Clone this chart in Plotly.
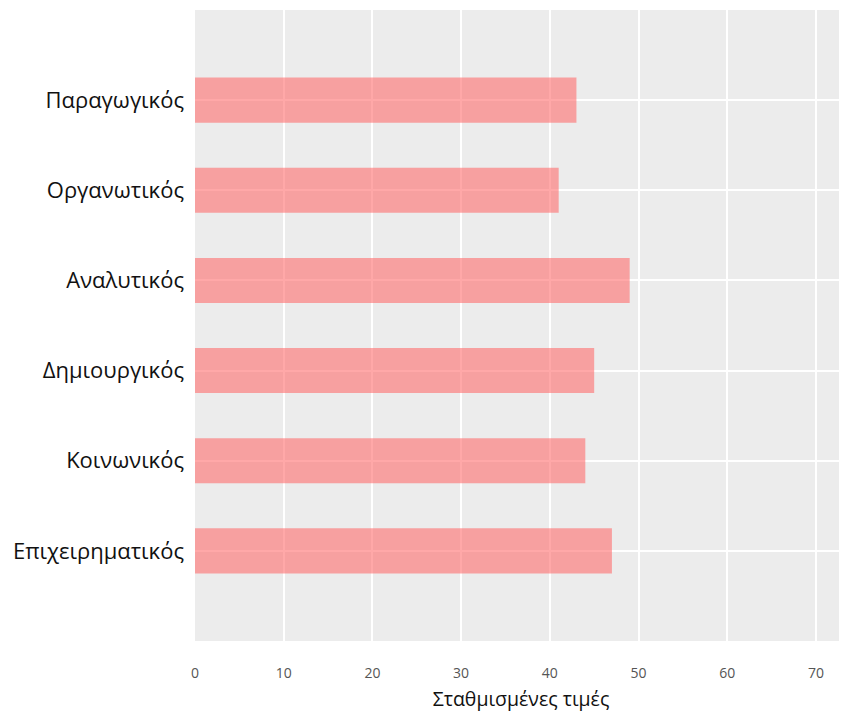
import plotly.graph_objects as go

categories = ["Παραγωγικός", "Οργανωτικός", "Αναλυτικός", "Δημιουργικός", "Κοινωνικός", "Επιχειρηματικός"]
values = [43, 41, 49, 45, 44, 47]
x_ticks = [0, 10, 20, 30, 40, 50, 60, 70]

fig = go.Figure(
    go.Bar(
        y=categories,
        x=values,
        orientation="h",
        width=0.5,
        marker=dict(color="rgba(255,110,110,0.6)", line=dict(width=0)),
    )
)

fig.update_layout(
    width=839,
    height=704,
    margin=dict(l=187, r=0, t=2, b=71),
    paper_bgcolor="white",
    plot_bgcolor="#ECECEC",
    font=dict(family="Open Sans, Noto Sans, sans-serif"),
    showlegend=False,
)

fig.update_xaxes(
    range=[0, 73.5],
    tickvals=x_ticks,
    ticktext=[str(v) for v in x_ticks],
    showgrid=True,
    gridcolor="white",
    gridwidth=1.5,
    zeroline=False,
    showline=False,
    ticks="",
    tickfont=dict(size=14, color="#555555"),
    ticklabelstandoff=22,
    title=dict(text="Σταθμισμένες τιμές", font=dict(size=19.5, color="#111111"), standoff=14),
)

fig.update_yaxes(
    categoryorder="array",
    categoryarray=categories,
    autorange=False,
    range=[6, -1],
    showgrid=True,
    gridcolor="white",
    gridwidth=1.5,
    zeroline=False,
    showline=False,
    ticks="",
    tickfont=dict(size=22, color="#111111"),
    ticklabelstandoff=10,
)

fig.write_html("out.html")
